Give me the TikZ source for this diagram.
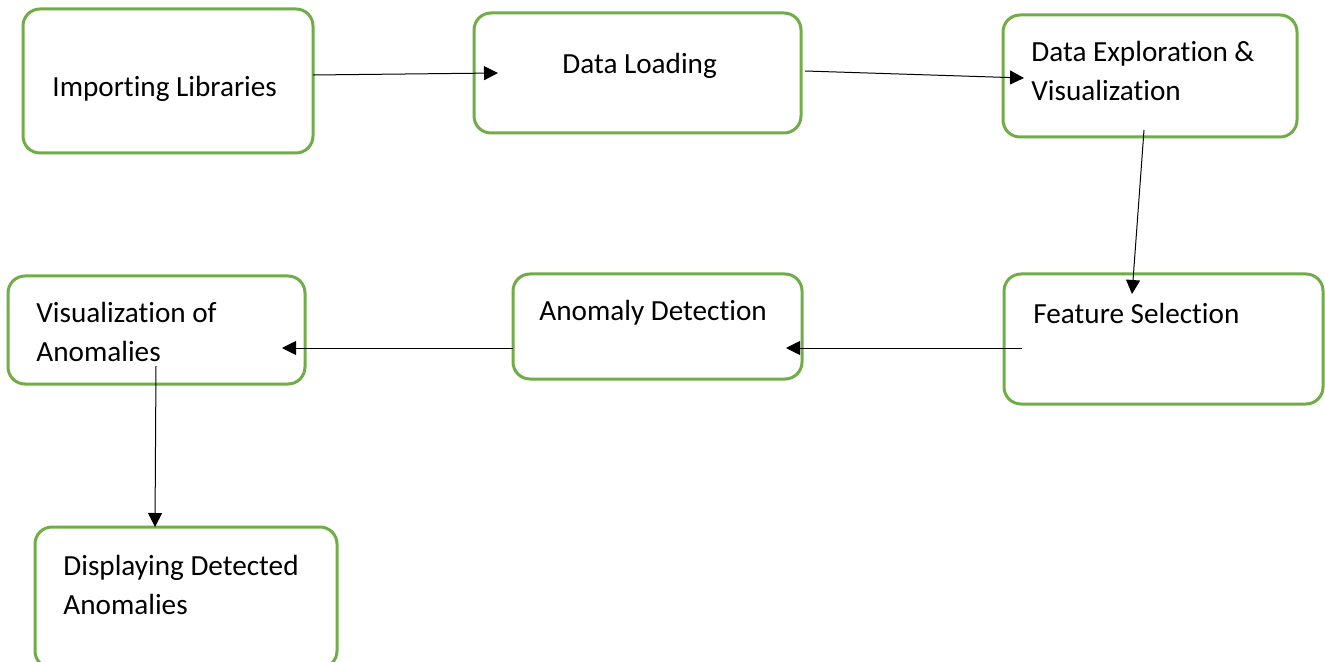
\documentclass[tikz,border=0pt]{standalone}
\usepackage{fontspec}
\setmainfont{Carlito}[Ligatures=NoCommon]
\usetikzlibrary{arrows.meta,fit}
\definecolor{boxgreen}{HTML}{70AD47}
\begin{document}
\begin{tikzpicture}[x=0.5pt,y=-0.5pt,
  box/.style={draw=boxgreen,line width=1.5pt,rounded corners=8.5pt,inner sep=0pt,fill=white},
  txt/.style={inner sep=0pt,font=\fontsize{14.6}{19.5}\selectfont,align=left,anchor=base west},
  conn/.style={draw=black,line width=0.5pt,-{Triangle[length=7pt,width=7pt]}}]
\clip (0,0) rectangle (1325,662);
\fill[white] (0,0) rectangle (1325,662);
% boxes
\node[box,fit={(23,9) (313,153)}] (b1) {};
\node[box,fit={(474,13) (801,133)}] (b2) {};
\node[box,fit={(1003,15) (1297,137)}] (b3) {};
\node[box,fit={(1004,274) (1323,404)}] (b4) {};
\node[box,fit={(513,274) (802,379)}] (b5) {};
\node[box,fit={(8,276) (305,384)}] (b6) {};
\node[box,fit={(35,527) (337,668)}] (b7) {};
% texts (base anchor = baseline of the last line)
\node[txt] (t1) at (52,97) {Importing Libraries};
\node[txt] (t2) at (562,74) {Data Loading};
\node[txt] (t3) at (1031,101) {Data Exploration \&\\Visualization};
\node[txt] (t4) at (1033,323) {Feature Selection};
\node[txt] (t5) at (539,321) {Anomaly Detection};
\node[txt] (t6) at (36,361) {Visualization of\\Anomalies};
\node[txt] (t7) at (63,614) {Displaying Detected\\Anomalies};
% connector end points
\coordinate (s1) at (313,75);   \coordinate (e1) at (498,73);
\coordinate (s2) at (805,71);   \coordinate (e2) at (1024,78);
\coordinate (s3) at (1144,130); \coordinate (e3) at (1132,294);
\coordinate (s4) at (1022,348); \coordinate (e4) at (786,348);
\coordinate (s5) at (513,348);  \coordinate (e5) at (282,348);
\coordinate (s6) at (156,366);  \coordinate (e6) at (155,527);
\draw[conn] (s1) -- (e1);
\draw[conn] (s2) -- (e2);
\draw[conn] (s3) -- (e3);
\draw[conn] (s4) -- (e4);
\draw[conn] (s5) -- (e5);
\draw[conn] (s6) -- (e6);
\end{tikzpicture}
\end{document}
